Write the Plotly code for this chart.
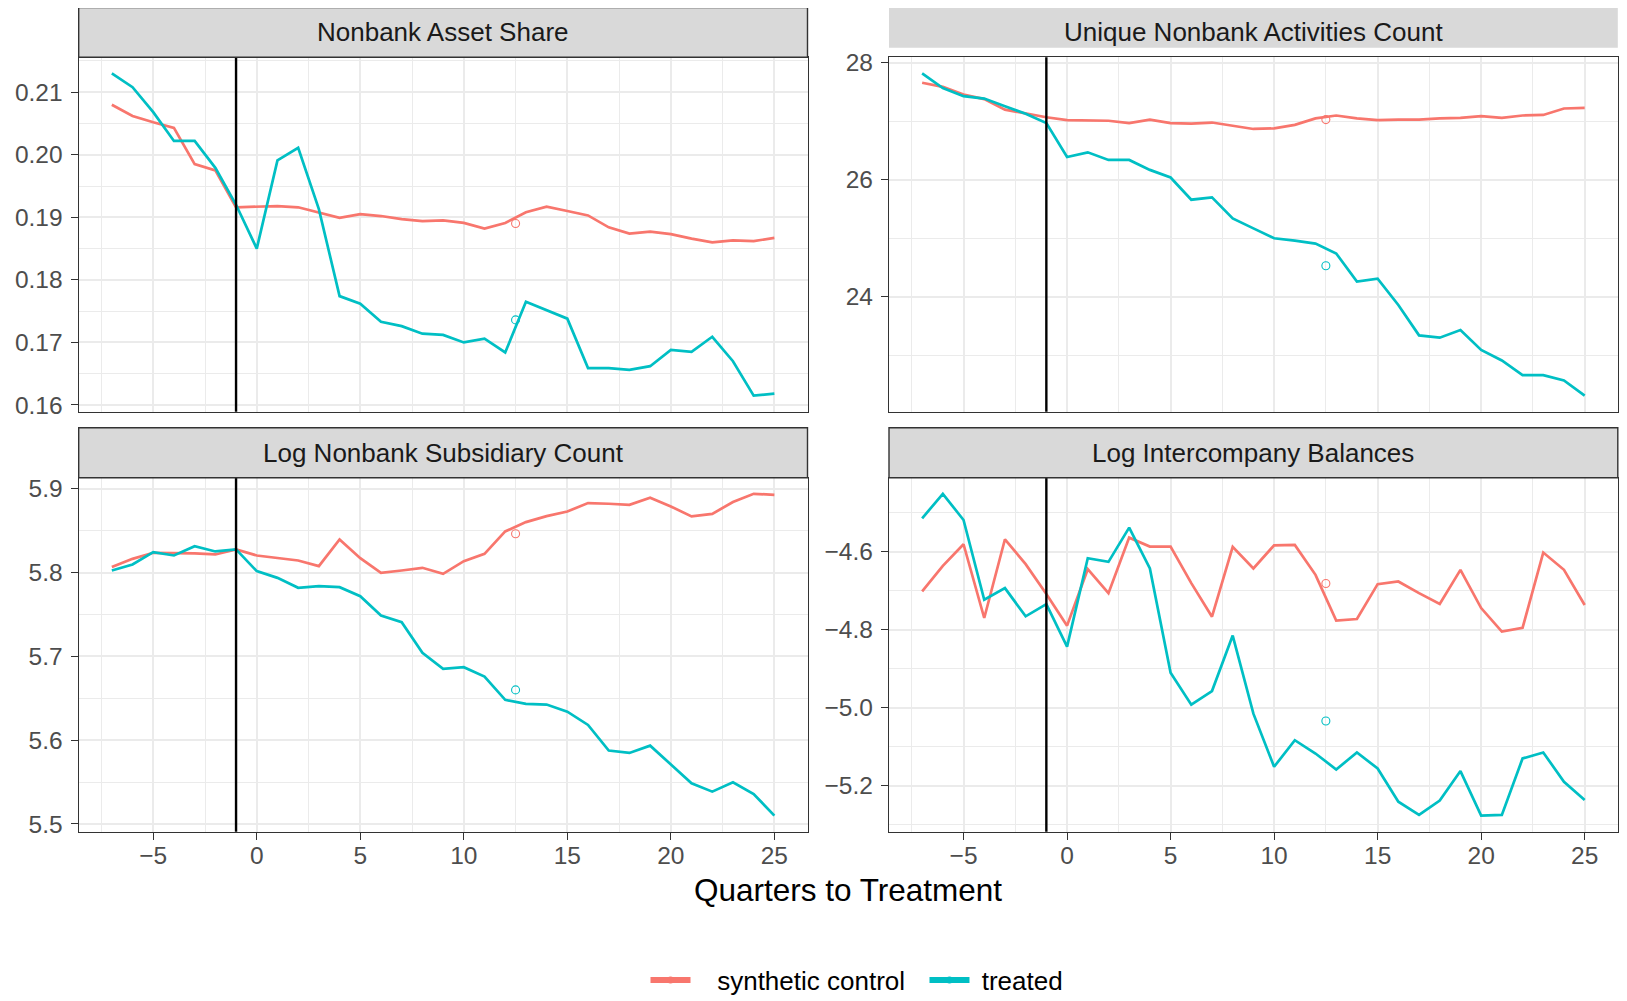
import plotly.graph_objects as go

# ---------------- data ----------------
quarters = list(range(-7, 26))
treatment_line = -1
marker_quarter = 12.5
series_names = ["synthetic control", "treated"]
series_colors = ["#F8766D", "#00BFC4"]

panel_titles = ["Nonbank Asset Share", "Unique Nonbank Activities Count",
                "Log Nonbank Subsidiary Count", "Log Intercompany Balances"]

asset_sc = [0.2080, 0.2062, 0.2052, 0.2043, 0.1985, 0.1975, 0.1916, 0.1917, 0.1918, 0.1916,
            0.1907, 0.1899, 0.1905, 0.1902, 0.1897, 0.1894, 0.1895, 0.1891, 0.1882, 0.1891,
            0.1908, 0.1917, 0.1910, 0.1903, 0.1884, 0.1874, 0.1877, 0.1873, 0.1866, 0.1860,
            0.1863, 0.1862, 0.1867]
asset_tr = [0.2130, 0.2108, 0.2068, 0.2022, 0.2022, 0.1979, 0.1920, 0.1850, 0.1991, 0.2011,
            0.1913, 0.1774, 0.1762, 0.1733, 0.1726, 0.1714, 0.1712, 0.1700, 0.1706, 0.1684,
            0.1765, 0.1751, 0.1738, 0.1659, 0.1659, 0.1656, 0.1662, 0.1688, 0.1685, 0.1709,
            0.1670, 0.1615, 0.1618]
asset_marks = [0.1890, 0.1736]

activ_sc = [27.66, 27.59, 27.46, 27.38, 27.20, 27.13, 27.07, 27.02, 27.01, 27.01,
            26.97, 27.03, 26.97, 26.96, 26.98, 26.93, 26.87, 26.88, 26.94, 27.05,
            27.10, 27.05, 27.02, 27.03, 27.03, 27.05, 27.06, 27.09, 27.06, 27.10,
            27.11, 27.22, 27.23]
activ_tr = [27.82, 27.57, 27.43, 27.39, 27.26, 27.13, 26.97, 26.39, 26.47, 26.34,
            26.34, 26.17, 26.04, 25.66, 25.70, 25.34, 25.17, 25.00, 24.96, 24.91,
            24.74, 24.26, 24.31, 23.86, 23.34, 23.30, 23.43, 23.09, 22.91, 22.66,
            22.66, 22.57, 22.31]
activ_marks = [27.03, 24.53]

subs_sc = [5.8065, 5.8164, 5.8236, 5.8236, 5.8228, 5.8216, 5.8276, 5.8204, 5.8176, 5.8144,
           5.8077, 5.8395, 5.8172, 5.7997, 5.8025, 5.8057, 5.7985, 5.8136, 5.8224, 5.8491,
           5.8602, 5.8674, 5.8729, 5.8829, 5.8821, 5.8809, 5.8893, 5.8789, 5.8670, 5.8701,
           5.8841, 5.8940, 5.8928]
subs_tr = [5.8025, 5.8097, 5.8244, 5.8204, 5.8315, 5.8252, 5.8276, 5.8017, 5.7937, 5.7818,
           5.7838, 5.7826, 5.7718, 5.7488, 5.7408, 5.7042, 5.6851, 5.6871, 5.6759, 5.6481,
           5.6433, 5.6425, 5.6341, 5.6182, 5.5876, 5.5848, 5.5935, 5.5716, 5.5486, 5.5386,
           5.5498, 5.5358, 5.5100]
subs_marks = [5.8463, 5.6600]

ic_sc = [-4.7014, -4.6358, -4.5804, -4.7696, -4.5676, -4.6315, -4.7082, -4.7892, -4.6443, -4.7057,
         -4.5634, -4.5864, -4.5864, -4.6801, -4.7662, -4.5872, -4.6426, -4.5830, -4.5821, -4.6588,
         -4.7764, -4.7721, -4.6827, -4.6758, -4.7057, -4.7338, -4.6460, -4.7440, -4.8045, -4.7951,
         -4.6017, -4.6460, -4.7363]
ic_tr = [-4.5139, -4.4509, -4.5182, -4.7227, -4.6929, -4.7653, -4.7338, -4.8429, -4.6162, -4.6256,
         -4.5378, -4.6426, -4.9102, -4.9920, -4.9571, -4.8147, -5.0150, -5.1513, -5.0832, -5.1173,
         -5.1582, -5.1147, -5.1556, -5.2408, -5.2749, -5.2382, -5.1624, -5.2766, -5.2749, -5.1300,
         -5.1147, -5.1897, -5.2365]
ic_marks = [-4.681, -5.034]

x_ticks = [-5, 0, 5, 10, 15, 20, 25]
y_ticks = [[0.16, 0.17, 0.18, 0.19, 0.20, 0.21], [24, 26, 28],
           [5.5, 5.6, 5.7, 5.8, 5.9], [-5.2, -5.0, -4.8, -4.6]]
y_fmt = [".2f", "d", ".1f", ".1f"]
y_minor = [0.005, 1, 0.05, 0.1]

panel_series = [(asset_sc, asset_tr, asset_marks), (activ_sc, activ_tr, activ_marks),
                (subs_sc, subs_tr, subs_marks), (ic_sc, ic_tr, ic_marks)]

# ---------------- layout geometry (pixels in the 1627x1001 window) ----------------
WIN_W, WIN_H = 1627, 1001
OFF = 8  # page body margin
W, H = WIN_W - OFF, WIN_H - OFF
cols = [(78.7, 807.5), (889.0, 1617.8)]
rows = [(57.3, 411.7), (477.7, 831.7)]
strip_tops = [7.5, 427.7]
FONT = "Liberation Sans, Arial, Helvetica, sans-serif"
GRID = "#EBEBEB"
BORDER = "#333333"
NB = "\u00a0"

def px(x):
    return (x - OFF) / W

def py(y):
    return 1 - (y - OFF) / H

fig = go.Figure()
shapes = []
annotations = []

xmin, xmax = min(quarters), max(quarters)
xpad = 0.05 * (xmax - xmin)
xrange_ = [xmin - xpad, xmax + xpad]

for i, (sc, tr, marks) in enumerate(panel_series):
    r, c = divmod(i, 2)
    ax = "" if i == 0 else str(i + 1)
    xa, ya = "x" + ax, "y" + ax
    for s, vals in enumerate([sc, tr]):
        fig.add_trace(go.Scatter(x=quarters, y=vals, mode="lines", xaxis=xa, yaxis=ya,
                                 line=dict(color=series_colors[s], width=2.7),
                                 showlegend=False, hoverinfo="skip"))
        fig.add_trace(go.Scatter(x=[marker_quarter], y=[marks[s]], mode="markers",
                                 xaxis=xa, yaxis=ya,
                                 marker=dict(symbol="circle-open", size=8,
                                             color=series_colors[s], line=dict(width=1.1)),
                                 showlegend=False, hoverinfo="skip"))
    allv = sc + tr + marks
    lo, hi = min(allv), max(allv)
    pad = 0.05 * (hi - lo)
    x0, x1 = cols[c]
    y0, y1 = rows[r]
    xaxis = dict(domain=[px(x0), px(x1)], range=xrange_, anchor=ya,
                 tickmode="array", tickvals=x_ticks,
                 showgrid=True, gridcolor=GRID, gridwidth=1.6,
                 minor=dict(showgrid=True, gridcolor=GRID, gridwidth=0.8, dtick=2.5, tick0=-7.5),
                 showline=True, linecolor=BORDER, linewidth=1.4, mirror=True,
                 zeroline=False,
                 tickfont=dict(family=FONT, size=24.5, color="#4D4D4D"))
    if r == 1:
        xaxis.update(ticks="outside", ticklen=7, tickwidth=1.4, tickcolor=BORDER,
                     showticklabels=True, ticklabelstandoff=-5)
    else:
        xaxis.update(ticks="", showticklabels=False)
    if i > 0:
        xaxis["matches"] = "x"
    yaxis = dict(domain=[py(y1), py(y0)], range=[lo - pad, hi + pad], anchor=xa,
                 tickmode="array", tickvals=y_ticks[i], tickformat=y_fmt[i],
                 showgrid=True, gridcolor=GRID, gridwidth=1.6,
                 minor=dict(showgrid=True, gridcolor=GRID, gridwidth=0.8, dtick=y_minor[i],
                            tick0=y_ticks[i][0] - y_minor[i]),
                 showline=True, linecolor=BORDER, linewidth=1.4, mirror=True,
                 zeroline=False, ticks="outside", ticklen=7, tickwidth=1.4, tickcolor=BORDER,
                 ticklabelstandoff=3,
                 tickfont=dict(family=FONT, size=24.5, color="#4D4D4D"))
    fig.update_layout(**{"xaxis" + ax: xaxis, "yaxis" + ax: yaxis})

    # treatment vertical line
    shapes.append(dict(type="line", xref=xa, yref=ya + " domain", x0=treatment_line,
                       x1=treatment_line, y0=0, y1=1, line=dict(color="black", width=2.4)))
    # strip
    st = strip_tops[r]
    if i == 1:
        sb = 47.7
        shapes.append(dict(type="rect", xref="paper", yref="paper", x0=px(x0), x1=px(x1),
                           y0=py(sb), y1=py(st), fillcolor="#D9D9D9", line=dict(width=0),
                           layer="below"))
    else:
        sb = y0
        shapes.append(dict(type="rect", xref="paper", yref="paper", x0=px(x0), x1=px(x1),
                           y0=py(sb), y1=py(st), fillcolor="#D9D9D9",
                           line=dict(color=BORDER, width=1.4)))
    annotations.append(dict(text=panel_titles[i], xref="paper", yref="paper",
                            x=px((x0 + x1) / 2), y=py((st + y0) / 2), showarrow=False,
                            xanchor="center", yanchor="middle",
                            font=dict(family=FONT, size=26, color="#1A1A1A")))

# legend-only traces
legend_labels = [NB * 3 + series_names[0] + NB * 2, NB + series_names[1]]
for s in range(2):
    fig.add_trace(go.Scatter(x=[None], y=[None], mode="lines+markers", name=legend_labels[s],
                             line=dict(color=series_colors[s], width=6),
                             marker=dict(color=series_colors[s], size=7)))

annotations.append(dict(text="Quarters to Treatment", xref="paper", yref="paper",
                        x=px(848), y=py(890), showarrow=False, xanchor="center",
                        yanchor="middle", font=dict(family=FONT, size=31.5, color="black")))

fig.update_layout(
    width=W, height=H, margin=dict(l=0, r=0, t=0, b=0, autoexpand=False),
    paper_bgcolor="white", plot_bgcolor="white",
    shapes=shapes, annotations=annotations,
    showlegend=True,
    legend=dict(orientation="h", x=px(857), y=py(980), xanchor="center", yanchor="middle",
                font=dict(family=FONT, size=26, color="black"),
                bgcolor="rgba(0,0,0,0)", itemwidth=40, tracegroupgap=0),
)

fig.write_html("out.html")
